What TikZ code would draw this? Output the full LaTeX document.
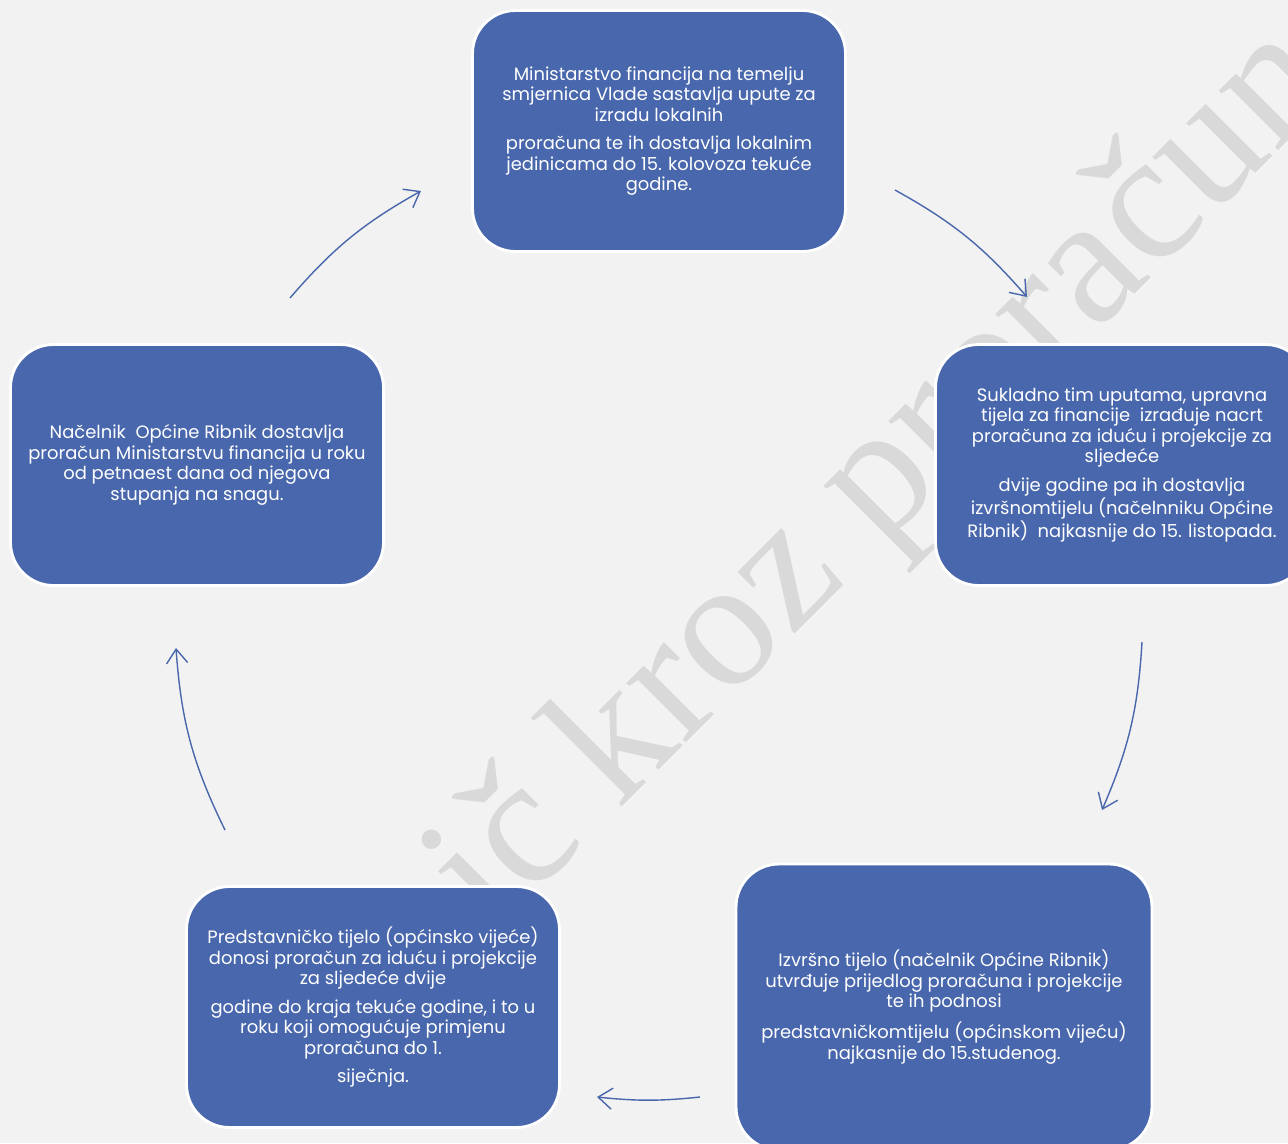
\documentclass[tikz,border=0pt]{standalone}
\usepackage{fontspec}
\usepackage{xcolor}
\usepackage{tikz}
\usetikzlibrary{arrows.meta}
\newfontfamily\boxfont{Poppins}
\newfontfamily\markfont{Liberation Serif}
\definecolor{boxblue}{RGB}{73,103,172}
\definecolor{bgcol}{RGB}{242,242,242}
\definecolor{markgray}{RGB}{217,217,217}

\begin{document}
\begin{tikzpicture}[
  x=0.02cm, y=-0.02cm,
  box/.style={draw=white,line width=1.6pt,fill=boxblue,rounded corners=0.86cm,align=center,text=white,
    font=\boxfont\fontsize{10.2}{11.7}\selectfont,inner sep=0pt,minimum width=7.46cm,minimum height=4.82cm},
  arr/.style={-{Straight Barb[length=8pt,width=12pt]},line width=0.8pt,draw=boxblue}
]

\fill[bgcol] (0,0) rectangle (1288,1143);
\useasboundingbox (0,0) rectangle (1288,1143);

\node[text=markgray,font=\markfont\fontsize{104}{104}\selectfont,rotate=45,anchor=base west,inner sep=0pt] (mark) at (493,936) {ič kroz proračun};

\node[box] (top) at (659,131) {Ministarstvo financija na temelju\\smjernica Vlade sastavlja upute za\\izradu lokalnih\\[4.5pt]proračuna te ih dostavlja lokalnim\\jedinicama do 15. kolovoza tekuće\\godine.};
\node[box] (right) at (1122,465) {Sukladno tim uputama, upravna\\tijela za financije\ \ izrađuje nacrt\\proračuna za iduću i projekcije za\\sljedeće\\[4.5pt]dvije godine pa ih dostavlja\\izvršnomtijelu (načelnniku Općine\\Ribnik)\ \ najkasnije do 15. listopada.};
\node[box,minimum width=8.32cm,minimum height=5.72cm] (botright) at (944,1007) {Izvršno tijelo (načelnik Općine Ribnik)\\utvrđuje prijedlog proračuna i projekcije\\te ih podnosi\\[4.5pt]predstavničkomtijelu (općinskom vijeću)\\najkasnije do 15.studenog.};
\node[box] (botleft) at (373,1007) {Predstavničko tijelo (općinsko vijeće)\\donosi proračun za iduću i projekcije\\za sljedeće dvije\\[4.5pt]godine do kraja tekuće godine, i to u\\roku koji omogućuje primjenu\\proračuna do 1.\\[4.5pt]siječnja.};
\node[box] (left) at (197,465) {Načelnik\ \ Općine Ribnik dostavlja\\proračun Ministarstvu financija u roku\\od petnaest dana od njegova\\stupanja na snagu.};

\coordinate (a1s) at (290,298);
\coordinate (a1e) at (421,191);
\coordinate (a2s) at (895,190);
\coordinate (a2e) at (1027,297);
\coordinate (a3s) at (1142,642);
\coordinate (a3e) at (1102,810);
\coordinate (a4s) at (700,1097);
\coordinate (a4e) at (597,1097);
\coordinate (a5s) at (225,830);
\coordinate (a5e) at (176,648);

\draw[arr] (a1s) to[bend left=10] (a1e);
\draw[arr] (a2s) to[bend left=10] (a2e);
\draw[arr] (a3s) to[bend left=10] (a3e);
\draw[arr] (a4s) to[bend left=6] (a4e);
\draw[arr] (a5s) to[bend left=11] (a5e);

\end{tikzpicture}
\end{document}
